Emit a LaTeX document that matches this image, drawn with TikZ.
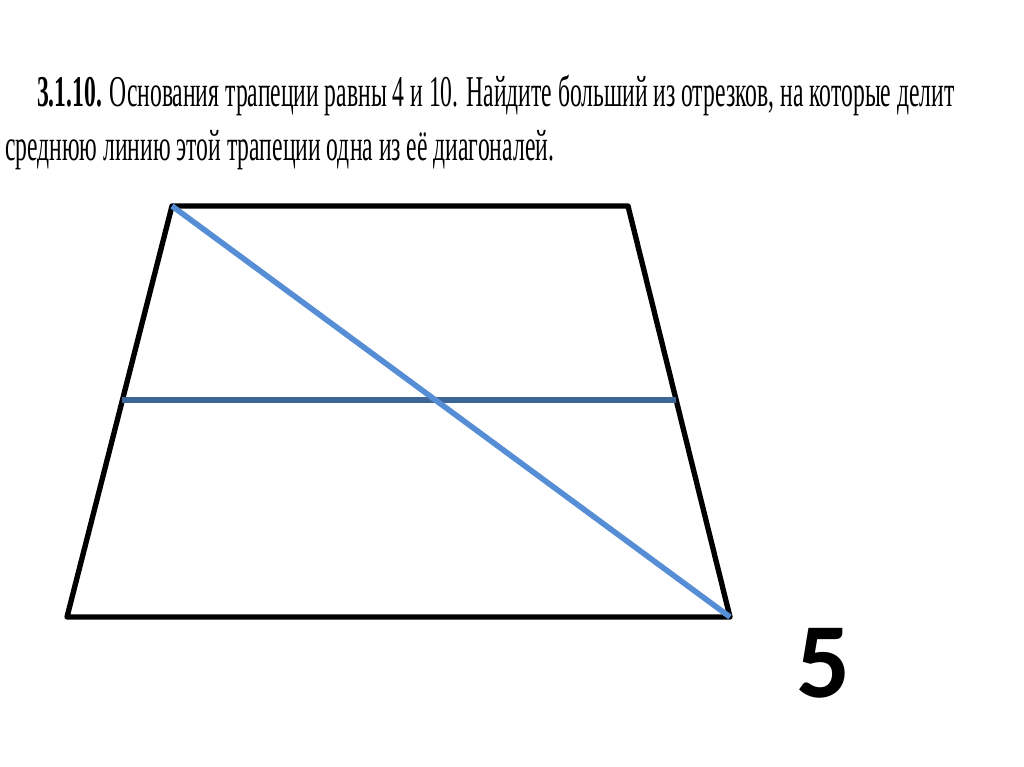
\documentclass[tikz,border=0pt]{standalone}
\usepackage{fontspec}
\setmainfont{Liberation Serif}
\newfontfamily\digitfont{Carlito}
\usetikzlibrary{calc}
\definecolor{diagblue}{HTML}{558ED5}
\definecolor{midblue}{HTML}{3D6597}
\begin{document}
\begin{tikzpicture}[x=0.75pt,y=-0.75pt,
    side/.style={line width=4pt, line join=round, line cap=round},
    diag/.style={line width=4.2pt, diagblue},
    midline/.style={line width=4.2pt, midblue},
    task/.style={anchor=base west, inner sep=0pt, font=\fontsize{33}{33}\selectfont, xscale=0.537}]
  \useasboundingbox (0,0) rectangle (1024,767);

  % Problem text
  \node[task] (line1) at (37,106) {\textbf{3.1.10.} Основания трапеции равны 4 и 10. Найдите больший из отрезков, на которые делит};
  \node[task] (line2) at (5,160) {среднюю линию этой трапеции одна из её диагоналей.};

  % Vertices of the trapezoid
  \coordinate (A) at (67,617);
  \coordinate (B) at (172,206);
  \coordinate (C) at (628,206);
  \coordinate (D) at (730,617);

  % Ends of the midline on the legs
  \coordinate (M) at ($(B)!0.472!(A)$);
  \coordinate (N) at ($(C)!0.472!(D)$);

  % Trapezoid
  \draw[side] (A) -- (B) -- (C) -- (D) -- cycle;

  % Midline and diagonal
  \draw[midline] (M) -- (N);
  \draw[diag] (B) -- (D);

  % Answer
  \node[anchor=base, inner sep=0pt, font=\digitfont\bfseries\fontsize{80}{80}\selectfont] (answer) at (824,697) {5};
\end{tikzpicture}
\end{document}
